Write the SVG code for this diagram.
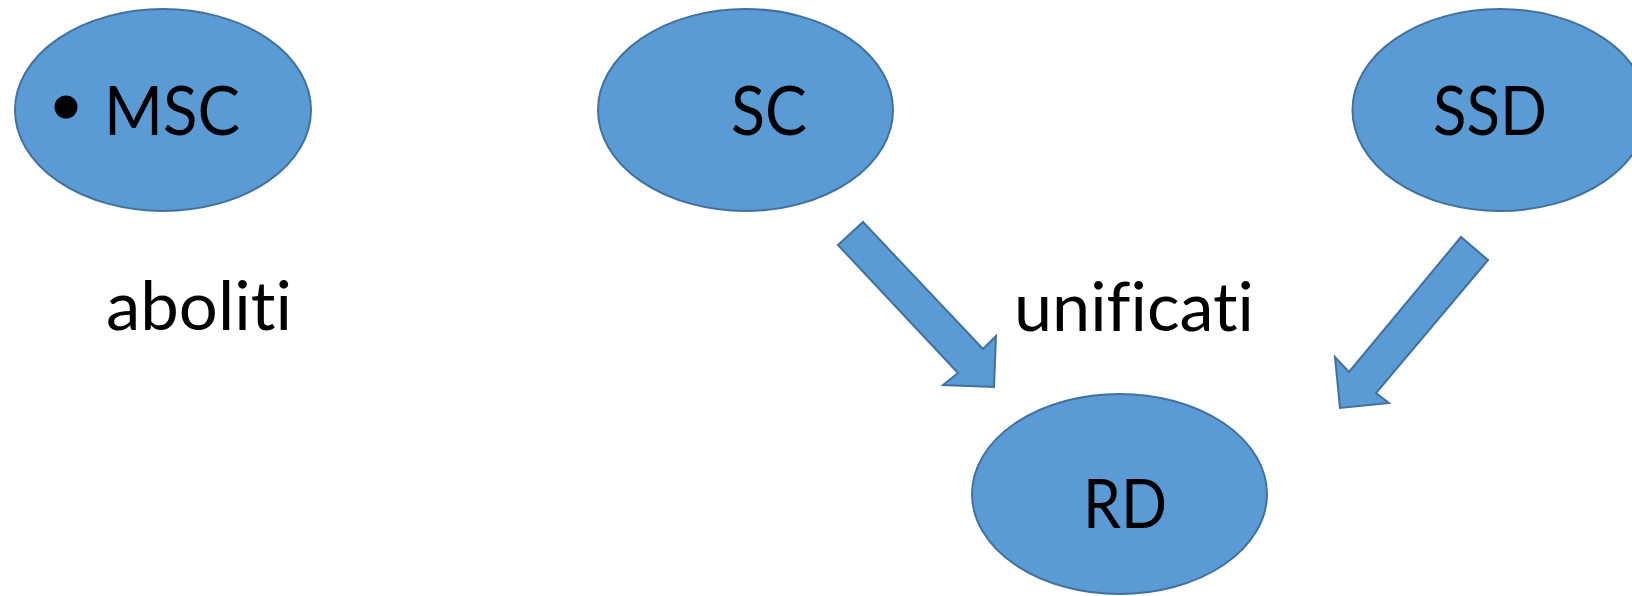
<svg xmlns="http://www.w3.org/2000/svg" width="1632" height="596" viewBox="0 0 1632 596">
<style>
.n{fill:#5B9BD5;stroke:#41719C;stroke-width:2}
.a{fill:#5B9BD5;stroke:#41719C;stroke-width:2;stroke-linejoin:miter}
.t{font-family:Lato,"Open Sans",sans-serif;font-size:67px;fill:#000;font-variant-ligatures:none;font-feature-settings:"liga" 0,"clig" 0}
</style>
<rect width="1632" height="596" fill="#fff"/>
<g id="MSC">
<ellipse class="n" cx="163" cy="110" rx="148" ry="101"/>
<circle cx="66" cy="107" r="11.5" fill="#000"/>
<text class="t" x="104" y="135" textLength="136" lengthAdjust="spacingAndGlyphs">MSC</text>
</g>
<g id="SC">
<ellipse class="n" cx="745.5" cy="110" rx="147.5" ry="101"/>
<text class="t" x="731" y="135" textLength="76" lengthAdjust="spacingAndGlyphs">SC</text>
</g>
<g id="SSD">
<ellipse class="n" cx="1500" cy="110" rx="147.5" ry="101"/>
<text class="t" x="1433" y="135" textLength="114" lengthAdjust="spacingAndGlyphs">SSD</text>
</g>
<g id="RD">
<ellipse class="n" cx="1119.5" cy="494" rx="147.5" ry="100"/>
<text class="t" x="1083" y="528" textLength="84" lengthAdjust="spacingAndGlyphs">RD</text>
</g>
<g id="aboliti-label">
<text class="t" x="106" y="330" textLength="186" lengthAdjust="spacingAndGlyphs">aboliti</text>
</g>
<g id="unificati-label">
<text class="t" x="1014" y="331" textLength="240" lengthAdjust="spacingAndGlyphs">unificati</text>
</g>
<g id="connectors">
<polygon class="a" points="838,245 863,222 983,349 996,336 994,387 943,385 958,373"/>
<polygon class="a" points="1488,260 1461,237 1349,372 1335,357 1340,408 1389,403 1376,393"/>
</g>
</svg>
